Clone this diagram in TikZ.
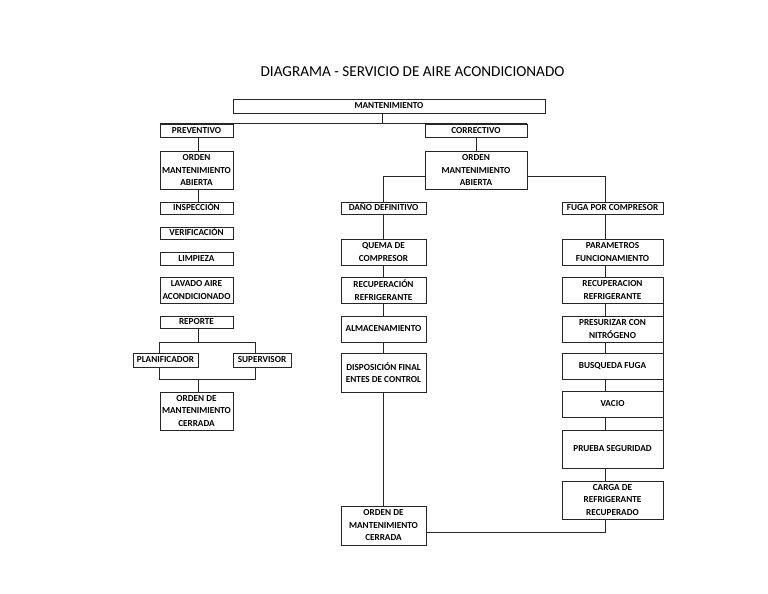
\documentclass[tikz,border=0pt]{standalone}
\usepackage{fontspec}
\setmainfont{Carlito}
\usetikzlibrary{backgrounds,calc}
\tikzset{
  box/.style={draw=black!85, fill=white, line width=0.8pt, rectangle, inner sep=0pt, align=center,
    font=\bfseries\fontsize{9.2}{12.5}\selectfont},
  oneline/.style={text height=6.4pt, text depth=0.8pt},
  conn/.style={draw=black!85, line width=0.8pt}
}
\newcommand{\bx}[7]{% name, x1, x2, y1, y2, text, extra style
  \node[box, #7, minimum width={#3-#2}, minimum height={#5-#4}] (#1) at ({(#2+#3)/2},{(#4+#5)/2}) {#6};}
\begin{document}
\begin{tikzpicture}[x=1pt,y=-1pt]
\useasboundingbox (0,0) rectangle (768,594);
\node[font=\fontsize{15.2}{18}\selectfont] (title) at (412.5,72) {DIAGRAMA - SERVICIO DE AIRE ACONDICIONADO};
% top
\bx{mant}{233}{545}{99}{113}{MANTENIMIENTO}{oneline}
\bx{prev}{160}{233}{124}{137}{PREVENTIVO}{oneline}
\bx{corr}{425}{527}{124}{137}{CORRECTIVO}{oneline}
\bx{ordL}{160}{233}{151}{189}{ORDEN\\MANTENIMIENTO\\ABIERTA}{}
\bx{ordR}{425}{527}{151}{189}{ORDEN\\MANTENIMIENTO\\ABIERTA}{}
% left column
\bx{insp}{160}{233}{202}{214}{INSPECCIÓN}{oneline}
\bx{verif}{160}{233}{227}{239}{VERIFICACIÓN}{oneline}
\bx{limp}{160}{233}{252}{265}{LIMPIEZA}{oneline}
\bx{lav}{160}{233}{277}{303}{LAVADO AIRE\\ACONDICIONADO}{}
\bx{rep}{160}{233}{316}{328}{REPORTE}{oneline}
\bx{plan}{133}{198}{353}{367}{PLANIFICADOR}{oneline}
\bx{sup}{233}{291}{353}{367}{SUPERVISOR}{oneline}
\bx{ordC1}{160}{233}{392}{430}{ORDEN DE\\MANTENIMIENTO\\CERRADA}{}
% middle column
\bx{dano}{341}{426}{202}{214}{DAÑO DEFINITIVO}{oneline}
\bx{quema}{341}{426}{239}{265}{QUEMA DE\\COMPRESOR}{}
\bx{recM}{341}{426}{277}{303}{RECUPERACIÓN\\REFRIGERANTE}{}
\bx{alm}{341}{426}{316}{342}{ALMACENAMIENTO}{oneline}
\bx{disp}{341}{426}{353}{392}{DISPOSICIÓN FINAL\\ENTES DE CONTROL}{}
\bx{ordC2}{341}{426}{506}{545}{ORDEN DE\\MANTENIMIENTO\\CERRADA}{}
% right column
\bx{fuga}{562}{663}{202}{214}{FUGA POR COMPRESOR}{oneline}
\bx{param}{562}{663}{239}{265}{PARAMETROS\\FUNCIONAMIENTO}{}
\bx{recR}{562}{663}{277}{303}{RECUPERACION\\REFRIGERANTE}{}
\bx{pres}{562}{663}{316}{342}{PRESURIZAR CON\\NITRÓGENO}{}
\bx{busq}{562}{663}{353}{379}{BUSQUEDA FUGA}{oneline}
\bx{vacio}{562}{663}{391}{417}{VACIO}{oneline}
\bx{prueba}{562}{663}{430}{468}{PRUEBA SEGURIDAD}{oneline}
\bx{carga}{562}{663}{481}{519}{CARGA DE\\REFRIGERANTE\\RECUPERADO}{}
% junction coordinates
\coordinate (mstem) at (382,124);
\coordinate (jL) at (383.5,176);
\coordinate (jR) at (605.5,176);
\coordinate (jB) at (605.5,532);
\coordinate (a1) at (159,342);
\coordinate (a2) at (255,342);
\coordinate (b1) at (159,379);
\coordinate (b2) at (255,379);
\coordinate (rc) at (198,342);
\coordinate (oc) at (198,379);
\begin{scope}[on background layer]
\draw[conn] (mant.south -| mstem) -- (mstem);
\draw[conn] (prev.north west) -- (corr.north east);
\draw[conn] (prev.south -| rc) -- (ordL.north -| rc);
\draw[conn] (corr.south) -- (ordR.north);
\draw[conn] (ordL.south -| rc) -- (insp.north -| rc);
\draw[conn] (ordR.west |- jL) -- (jL) -- (ordC2.north);
\draw[conn] (ordR.east |- jR) -- (jR) -- (jR |- carga.north);
\draw[conn] (jR |- carga.south) -- (jB) -- (ordC2.east |- jB);
\draw[conn] (rep.south -| rc) -- (rc);
\draw[conn] (a1) -- (a2);
\draw[conn] (a1) -- (b1) -- (b2) -- (a2);
\draw[conn] (oc) -- (ordC1.north -| oc);
\end{scope}
\draw[conn] (recR.north east) -- (prueba.south east);
\end{tikzpicture}
\end{document}
